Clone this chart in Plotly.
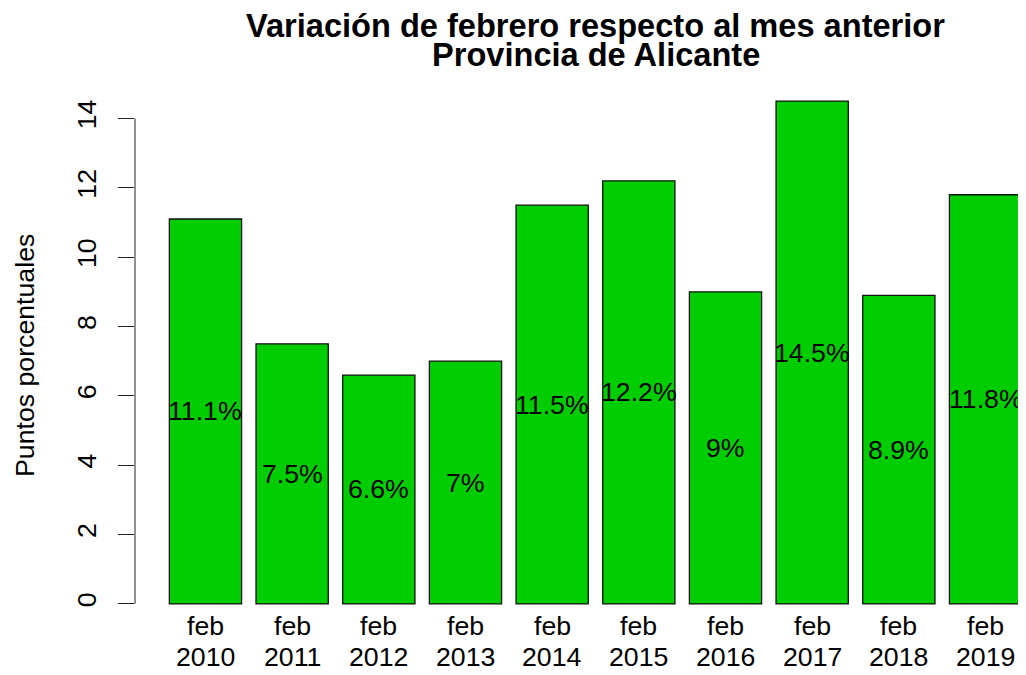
import plotly.graph_objects as go

# ---- data ----
years = ["2010", "2011", "2012", "2013", "2014", "2015", "2016", "2017", "2018", "2019"]
month_label = "feb"
values = [11.1, 7.5, 6.6, 7.0, 11.5, 12.2, 9.0, 14.5, 8.9, 11.8]
y_ticks = [0, 2, 4, 6, 8, 10, 12, 14]
title_line1 = "Variación de febrero respecto al mes anterior"
title_line2 = "Provincia de Alicante"
y_title = "Puntos porcentuales"

# ---- layout constants (pixels, in page coordinates) ----
OFF = 8  # page body margin
W, H = 1026 - OFF, 675 - OFF
PLOT_BOTTOM = 624  # page px
ML, MR, MT = 135 - OFF, 0, 81 - OFF
MB = H - (PLOT_BOTTOM - OFF)
PW, PH = W - ML - MR, H - MT - MB
FONT = "Liberation Sans, Arial, sans-serif"
BASE = 26.7

def py2paper(py):
    # py given in page pixels
    return (PLOT_BOTTOM - py) / PH

def px2paper(px):
    return (px - OFF - ML) / PW

fig = go.Figure()
fig.add_trace(go.Bar(
    x=years, y=values,
    marker=dict(color="#00CD00", line=dict(color="#111", width=1.3)),
    hoverinfo="x+y",
))

ann = []
# value labels at half height
for i, v in enumerate(values):
    ann.append(dict(x=i, y=v / 2, xref="x", yref="y", text=f"{v:g}%",
                    showarrow=False, font=dict(family=FONT, size=BASE, color="black"),
                    xanchor="center", yanchor="middle"))
# x-axis two-line labels
for i, yr in enumerate(years):
    ann.append(dict(x=i, y=py2paper(626), xref="x", yref="paper", text=month_label,
                    showarrow=False, font=dict(family=FONT, size=BASE, color="black"),
                    xanchor="center", yanchor="middle"))
    ann.append(dict(x=i, y=py2paper(657), xref="x", yref="paper", text=yr,
                    showarrow=False, font=dict(family=FONT, size=BASE, color="black"),
                    xanchor="center", yanchor="middle"))
# title
ann.append(dict(x=px2paper(595.5), y=py2paper(25), xref="paper", yref="paper",
                text=f"<b>{title_line1}</b>", showarrow=False,
                font=dict(family=FONT, size=32.6, color="black"),
                xanchor="center", yanchor="middle"))
ann.append(dict(x=px2paper(595.5), y=py2paper(55), xref="paper", yref="paper",
                text=f"<b>{title_line2}</b>", showarrow=False,
                font=dict(family=FONT, size=32.6, color="black"),
                xanchor="center", yanchor="middle"))
# y title
ann.append(dict(x=px2paper(25), y=py2paper(356), xref="paper", yref="paper",
                text=y_title, textangle=-90, showarrow=False,
                font=dict(family=FONT, size=BASE, color="black"),
                xanchor="center", yanchor="middle"))

fig.update_layout(
    width=W, height=H,
    margin=dict(l=ML, r=MR, t=MT, b=MB, pad=0),
    paper_bgcolor="white", plot_bgcolor="white",
    bargap=0.2 / 1.2,
    showlegend=False,
    annotations=ann,
    font=dict(family=FONT, size=BASE, color="black"),
    xaxis=dict(type="category", range=[-0.813, 9.467], showticklabels=False,
               showgrid=False, zeroline=False, showline=False, ticks=""),
    yaxis=dict(range=[-0.58, 15.08], tickvals=y_ticks, ticktext=[str(t) for t in y_ticks],
               tickangle=-90, ticks="outside", ticklen=16, tickwidth=1, tickcolor="#222",
               ticklabelstandoff=11,
               tickfont=dict(family=FONT, size=BASE, color="black"),
               showgrid=False, zeroline=False, showline=False),
    shapes=[dict(type="line", xref="paper", yref="y", x0=0, x1=0,
                 y0=y_ticks[0], y1=y_ticks[-1], line=dict(color="#222", width=1))],
)

fig.write_html("out.html")
